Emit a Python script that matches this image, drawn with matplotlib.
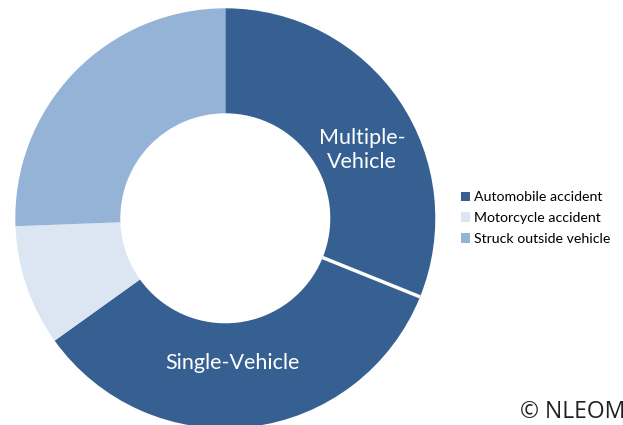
import matplotlib
matplotlib.use("Agg")
import matplotlib.pyplot as plt
from matplotlib.patches import Patch
import numpy as np

# --- data ---
slice_names = ["Multiple-Vehicle", "Single-Vehicle", "Motorcycle", "Struck outside vehicle"]
slice_values = [31.1, 34.0, 9.3, 25.6]
slice_colors = ["#376092", "#376092", "#DCE6F2", "#95B3D7"]

legend_labels = ["Automobile accident", "Motorcycle accident", "Struck outside vehicle"]
legend_colors = ["#376092", "#DCE6F2", "#95B3D7"]

W, H = 623, 425
fig = plt.figure(figsize=(W / 100, H / 100), dpi=100)

# donut centre (225, 218) px, outer radius 210 px
cx, cy, R = 225.3, 218.3, 210.0
ax = fig.add_axes([(cx - R) / W, (H - cy - R) / H, 2 * R / W, 2 * R / H])
ax.pie(slice_values, colors=slice_colors, startangle=90, counterclock=False,
       radius=1.0, wedgeprops=dict(width=0.5, linewidth=0))
ax.set_xlim(-1, 1)
ax.set_ylim(-1, 1)
ax.set_aspect("equal")
ax.axis("off")

# white divider between the two automobile slices
ang = np.deg2rad(90 - 360 * slice_values[0] / sum(slice_values))
ax.plot([0.5 * np.cos(ang), 1.0 * np.cos(ang)], [0.5 * np.sin(ang), 1.0 * np.sin(ang)],
        color="white", linewidth=2.5, solid_capstyle="butt")

ax.text(0.651, 0.325, "Multiple-\nVehicle", color="white", fontsize=15.5,
        family="Lato", ha="center", va="center", linespacing=1.2)
ax.text(0.032, -0.689, "Single-Vehicle", color="white", fontsize=15.5,
        family="Lato", ha="center", va="center")

handles = [Patch(facecolor=c, edgecolor="none") for c in legend_colors]
fig.legend(handles, legend_labels, loc="center left",
           bbox_to_anchor=(448 / W, 1 - 218 / H), frameon=False,
           prop=dict(family="Lato", size=10.2), handlelength=0.65, handleheight=0.65,
           handletextpad=0.3, labelspacing=0.62)

# the source image crops this credit at its right edge
fig.text(520 / W, 1 - 412 / H, "© NLEOMF", fontsize=16.5, family="Open Sans",
         color="#222222", ha="left", va="center")

fig.savefig("out.png", dpi=100)
